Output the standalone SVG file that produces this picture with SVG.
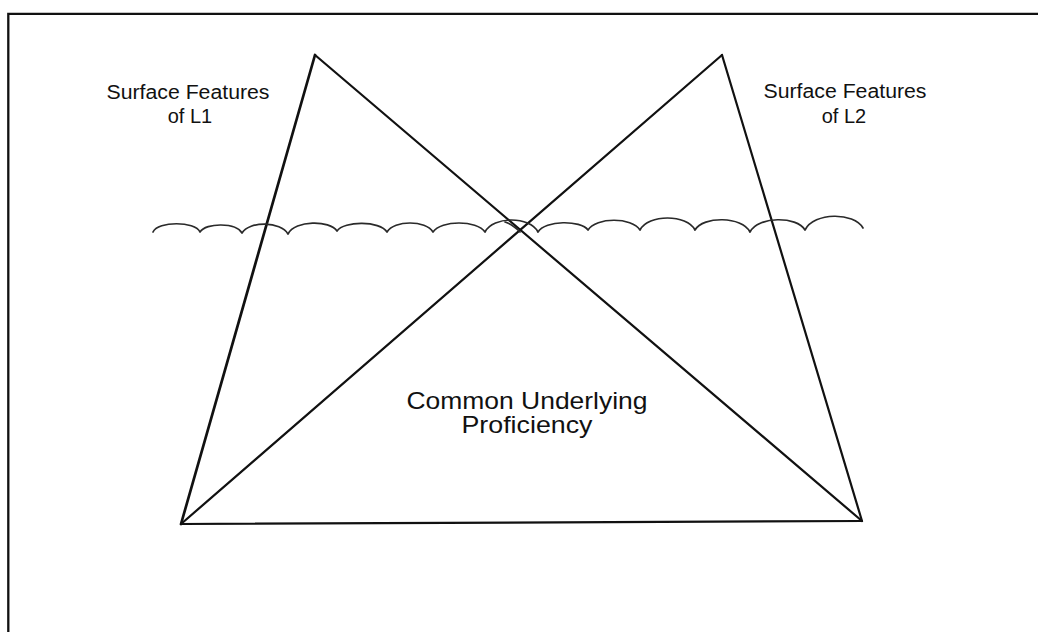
<svg xmlns="http://www.w3.org/2000/svg" width="1038" height="632" viewBox="0 0 1038 632">
  <style>
    .bg { fill: #ffffff; }
    .frame { fill: none; stroke: #111111; stroke-width: 2.3; }
    .edge { fill: none; stroke: #111111; stroke-width: 2.2; stroke-linecap: round; stroke-linejoin: round; }
    .edge-thick { stroke-width: 2.7; }
    .wave { fill: none; stroke: #2a2a2a; stroke-width: 1.7; stroke-linecap: round; stroke-linejoin: round; }
    .label { font-family: "Liberation Sans", Arial, sans-serif; fill: #111111; text-anchor: middle; }
    .small { font-size: 20px; }
    .big { font-size: 24px; }
  </style>
  <rect class="bg" x="0" y="0" width="1038" height="632"/>
  <g id="frame">
    <path class="frame" d="M 8.3 634 L 8.3 13.8 L 1040 13.8"/>
  </g>
  <g id="connectors">
    <line class="edge edge-thick" x1="315" y1="55" x2="181" y2="524"/>
    <line class="edge" x1="315" y1="55" x2="862" y2="521"/>
    <line class="edge" x1="722" y1="55" x2="862" y2="521"/>
    <line class="edge" x1="722" y1="55" x2="181" y2="524"/>
    <line class="edge" x1="181" y1="524" x2="862" y2="521"/>
  </g>
  <g id="waterline">
    <path class="wave" d="M 153 232 C 158 221 195 221 200 232 C 206 222.5 236 222.5 242 233 C 249 221 281 221 288 234 C 295 220 330 220 337 231 C 344 220.7 380 220.7 387 232 C 394 220 426 220 433 232 C 441 220 477 220 485 232 C 493 216 530 216 538 232 C 545 220 581 220 588 230 C 596 217 632 217 640 230 C 648 214 687 214 695 230 C 703 216 742 216 750 232 C 758 216 797 216 805 230 C 814 212 854 212 863 228"/>
    <path class="wave" d="M 505 222 Q 512 224 520 232"/>
  </g>
  <g id="label-l1">
    <text class="label small" x="188" y="98.5" textLength="163" lengthAdjust="spacingAndGlyphs">Surface Features</text>
    <text class="label small" x="190" y="123">of L1</text>
  </g>
  <g id="label-l2">
    <text class="label small" x="845" y="97.5" textLength="163" lengthAdjust="spacingAndGlyphs">Surface Features</text>
    <text class="label small" x="844" y="122.5">of L2</text>
  </g>
  <g id="label-cup">
    <text class="label big" x="527" y="408.5" textLength="241" lengthAdjust="spacingAndGlyphs">Common Underlying</text>
    <text class="label big" x="527" y="433" textLength="131" lengthAdjust="spacingAndGlyphs">Proficiency</text>
  </g>
</svg>
